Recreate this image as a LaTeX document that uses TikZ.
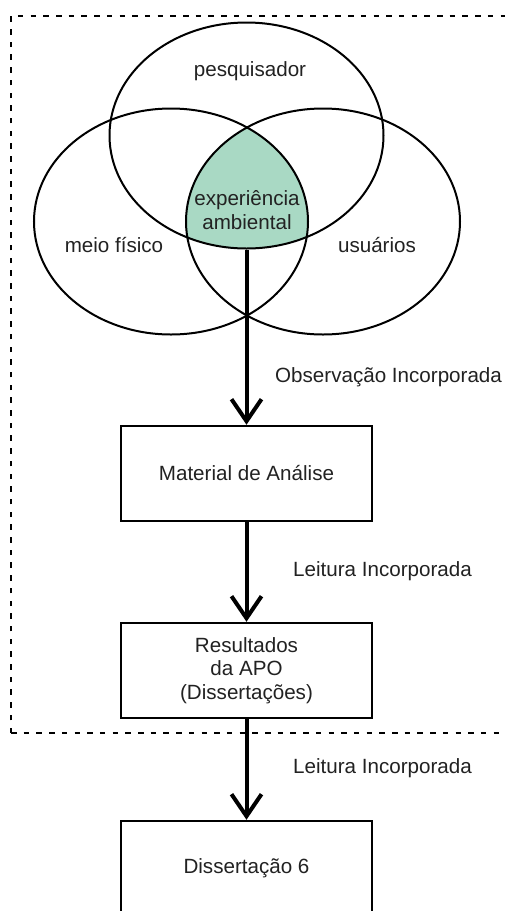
\documentclass[tikz,border=0pt]{standalone}
\usepackage{fontspec}
\setmainfont{Liberation Sans}
\usetikzlibrary{arrows.meta,shapes.geometric}
\definecolor{venngreen}{HTML}{A9D9C4}
\definecolor{txtc}{HTML}{222222}
\tikzset{
  venn/.style={ellipse,draw,line width=2pt,minimum width=274pt,minimum height=226pt,inner sep=0pt},
  lbl/.style={text=txtc,font=\fontsize{20.6}{23.5}\selectfont,inner sep=0pt},
  box/.style={draw,line width=2.5pt,minimum width=251pt,minimum height=95pt,inner sep=0pt,align=center,text=txtc,font=\fontsize{20.6}{23.5}\selectfont},
  arr/.style={line width=4pt,-{Straight Barb[length=22pt,width=30pt]}},
  frame/.style={line width=2.2pt,dash pattern=on 5.5pt off 7.2pt}
}
\begin{document}
\begin{tikzpicture}[x=1pt,y=-1pt]
\clip (0,0) rectangle (505,911);
\fill[white] (0,0) rectangle (505,911);
% green intersection
\begin{scope}
  \clip (246.5,135.5) ellipse [x radius=137, y radius=113];
  \clip (171,221.5) ellipse [x radius=137, y radius=113];
  \fill[venngreen] (323,221.5) ellipse [x radius=137, y radius=113];
\end{scope}
\node[venn] (pesq) at (246.5,135.5) {};
\node[venn] (meio) at (171,221.5) {};
\node[venn] (usu) at (323,221.5) {};
\node[lbl] (tpesq) at (250,71) {pesquisador};
\node[lbl,align=center] (texp) at (247,210) {experiência\\ambiental};
\node[lbl] (tmeio) at (114,245) {meio físico};
\node[lbl] (tusu) at (377,245) {usuários};
% boxes
\node[box] (mat) at (246.5,473.5) {Material de Análise};
\node[box] (res) at (246.5,670.5) {Resultados\\da APO\\(Dissertações)};
\node[box] (dis) at (246.5,868.5) {Dissertação 6};
% arrows
\draw[arr] (pesq.south) -- (mat.north);
\draw[arr] (mat.south) -- (res.north);
\draw[arr] (res.south) -- (dis.north);
\node[lbl,anchor=west] (obs) at (275,377) {Observação Incorporada};
\node[lbl,anchor=west] (lei1) at (293,571) {Leitura Incorporada};
\node[lbl,anchor=west] (lei2) at (293,768) {Leitura Incorporada};
% dashed frame
\coordinate (fbl) at (11,733);
\coordinate (ftl) at (11,16);
\coordinate (ftr) at (520,16);
\coordinate (fbr) at (520,733);
\draw[frame] (fbl) -- (ftl) -- (ftr);
\draw[frame] (fbl) -- (fbr);
\end{tikzpicture}
\end{document}
